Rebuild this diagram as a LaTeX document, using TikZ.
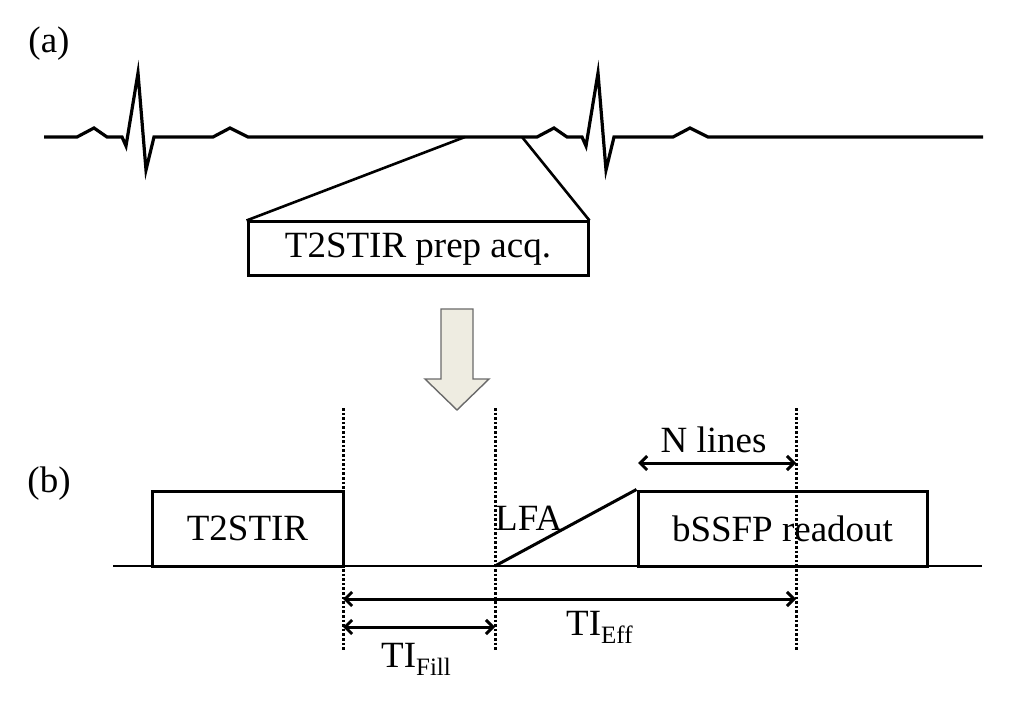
\documentclass[tikz,border=0pt]{standalone}
\usepackage{fontspec}
\setmainfont{Liberation Serif}
\usepackage{xcolor}
\usetikzlibrary{arrows.meta}

\definecolor{arrowfill}{HTML}{EEECE1}
\definecolor{arrowline}{HTML}{6A6A6A}
\newcommand{\sub}[1]{\raisebox{-8pt}{\fontsize{25}{27}\selectfont #1}}

\tikzset{
  box/.style={draw, rectangle, line width=3pt, inner sep=0pt},
  txt/.style={inner sep=0pt},
  trace/.style={line width=3.2pt, line join=miter},
  timing/.style={line width=3pt, {Straight Barb[length=7pt,width=14pt]}-{Straight Barb[length=7pt,width=14pt]}},
  guide/.style={line width=3pt, dash pattern=on 2.6pt off 2pt},
}

\begin{document}
\begin{tikzpicture}[x=1pt, y=-1pt, font=\fontsize{37}{42}\selectfont]
\useasboundingbox (0,0) rectangle (1023,711);

% panel labels
\node (a) at (49,44) {(a)};
\node (b) at (49,484) {(b)};

% ECG
\draw[trace] (44,137)
  \foreach \o in {0,460} {
    -- (77+\o,137) -- (94+\o,128) -- (107+\o,137) -- (122+\o,137)
    -- (126+\o,146) -- (138+\o,73) -- (146+\o,170) -- (154+\o,137)
    -- (213+\o,137) -- (230+\o,128) -- (248+\o,137)
  } -- (983,137);

\coordinate (zl) at (465,137);
\coordinate (zr) at (522,137);
\node (prep) at (418,249) [box, minimum width=340pt, minimum height=54pt] {T2STIR prep acq.};
\draw[line width=2.6pt] (zl) -- (prep.north west);
\draw[line width=2.6pt] (zr) -- (prep.north east);

% down arrow
\draw[fill=arrowfill, draw=arrowline, line width=1.4pt]
  (441,309) -- (473,309) -- (473,379) -- (489,379) -- (457,410)
  -- (425,379) -- (441,379) -- cycle;

% sequence
\coordinate (baseL) at (113,566);
\coordinate (baseR) at (982,566);
\draw[line width=1.2pt] (baseL) -- (baseR);

\node (t2stir) at (247.5,528.5) [box, minimum width=191pt, minimum height=75pt] {T2STIR};
\node (bssfp) at (782.5,528.5) [box, minimum width=289pt, minimum height=75pt] {bSSFP readout};

\coordinate (lfa0) at (495,566);
\draw[line width=3pt] (lfa0) -- (bssfp.north west);
\node (lfa) at (495,530) [txt, anchor=base west] {LFA};

% dotted guides
\foreach \n/\x in {1/343, 2/495, 3/796} {
  \coordinate (g\n top) at (\x,408);
  \coordinate (g\n bot) at (\x,651);
  \draw[guide] (g\n top) -- (g\n bot);
}

\coordinate (nl0) at (638,463);
\coordinate (nl1) at (796,463);
\draw[timing] (nl0) -- (nl1);
\node (nlines) at (713.5,452) [txt, anchor=base] {N lines};

\coordinate (eff0) at (343,599);
\coordinate (eff1) at (796,599);
\draw[timing] (eff0) -- (eff1);
\node (tieff) at (566,635) [txt, anchor=base west] {TI\sub{Eff}};

\coordinate (fill0) at (343,627);
\coordinate (fill1) at (495,627);
\draw[timing] (fill0) -- (fill1);
\node (tifill) at (381,667) [txt, anchor=base west] {TI\sub{Fill}};
\end{tikzpicture}
\end{document}
